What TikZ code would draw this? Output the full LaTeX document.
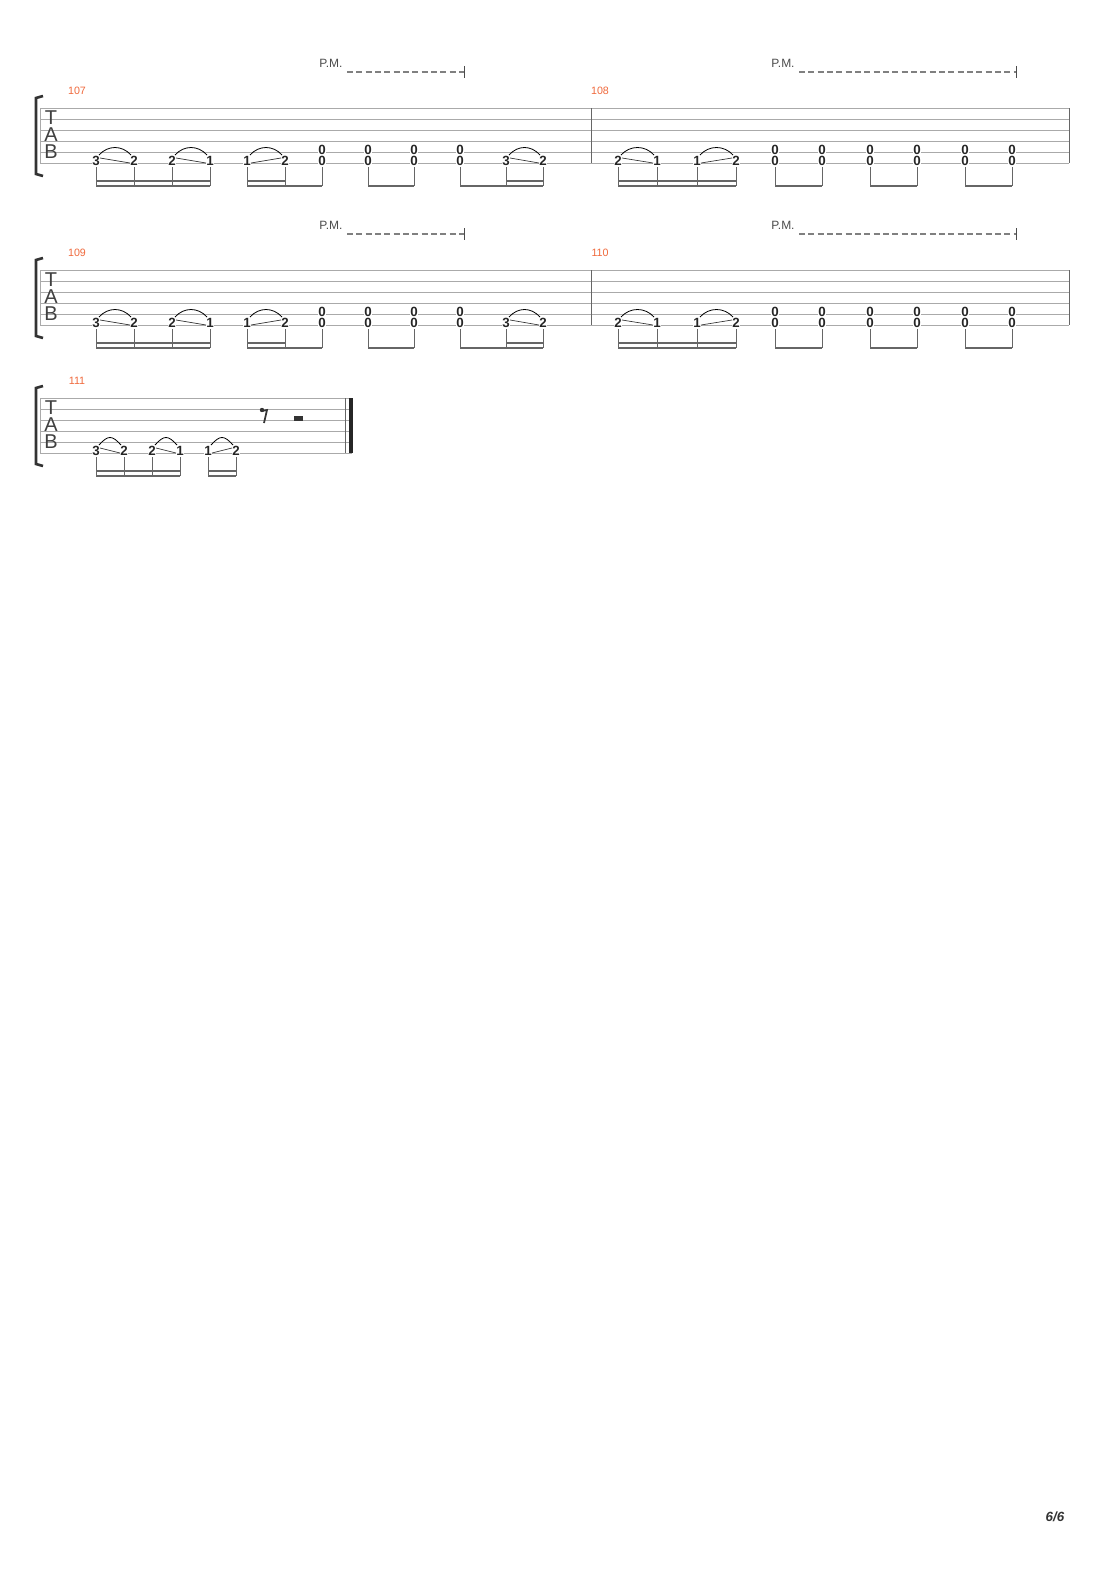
\documentclass[tikz,border=0pt]{standalone}
\usepackage{fontspec}
\setmainfont{Liberation Sans}
\usetikzlibrary{positioning}
\definecolor{barnum}{HTML}{F0693C}
\definecolor{staffgray}{HTML}{AAAAAA}
\definecolor{beamgray}{HTML}{666666}
\tikzset{
  staffline/.style={draw=staffgray, line width=0.6pt},
  fret/.style={font=\bfseries\fontsize{10}{10}\selectfont, inner sep=0.5pt, fill=white, text=black!85},
  tabletter/.style={font=\fontsize{15}{15}\selectfont, inner sep=0pt, text=black!75},
  stemline/.style={draw=beamgray, line width=0.6pt},
  beamline/.style={draw=beamgray, line width=2pt},
  slideline/.style={draw=black!80, line width=0.5pt},
  barnumber/.style={font=\fontsize{8}{8}\selectfont, text=barnum, inner sep=0pt},
  pmtext/.style={font=\fontsize{9}{9}\selectfont, text=black!70, inner sep=0pt},
  pmline/.style={draw=black!50, dash pattern=on 4.5pt off 2.5pt, line width=0.9pt}
}
% staff with bracket and TAB letters: #1 top line, #2 right end
\newcommand\tabstaff[2]{
  \foreach \k in {0,...,5}
    \draw[staffline] (40,#1+11*\k) -- (#2,#1+11*\k);
  \draw[staffline] (40,#1) -- (40,#1+55);
  \draw[line width=2pt, black!80] (43,#1-12) -- (36,#1-10) -- (36,#1+66) -- (43,#1+68);
  \node[tabletter] at (51,#1+10) {T};
  \node[tabletter] at (51,#1+27) {A};
  \node[tabletter] at (51,#1+44) {B};
}
% single fret on 6th string with stem
\newcommand\lowfret[4]{% name, x, y0, fret
  \node[fret] (#1) at (#2,#3+53) {#4};
  \draw[stemline] (#2,#3+59) -- (#2,#3+78);
}
% open power chord (strings 5 and 6) with stem
\newcommand\openchord[3]{% name, x, y0
  \node[fret] (#1u) at (#2,#3+42) {0};
  \node[fret] (#1) at (#2,#3+53) {0};
  \draw[stemline] (#2,#3+59) -- (#2,#3+78);
}
% slur plus slide line: #1 x1, #2 x2, #3 y0, #4 down/up
\newcommand\slurslide[4]{
  \draw[line width=0.6pt] (#1+3,#3+47) .. controls (#1+12,#3+37) and (#2-12,#3+37) .. (#2-3,#3+47);
  \ifx#4d\draw[slideline] (#1+4,#3+50) -- (#2-4,#3+55);
  \else\draw[slideline] (#1+4,#3+55) -- (#2-4,#3+50);\fi
}
\newcommand\beam[3]{\draw[beamline] (#1,#3+78) -- (#2,#3+78);}
\newcommand\subbeam[3]{\draw[beamline] (#1,#3+73) -- (#2,#3+73);}
% palm mute: #1 x text, #2 x end, #3 y
\newcommand\palmmute[3]{
  \node[pmtext] at (#1,#3) {P.M.};
  \draw[pmline] (#1+16,#3+9) -- (#2,#3+9);
  \draw[black!70, line width=0.6pt] (#2,#3+3) -- (#2,#3+15);
}
% first bar of a system
\newcommand\barodd[2]{% y0, number
  \node[barnumber] at (77,#1-17) {#2};
  \palmmute{331}{464}{#1-45}
  \foreach \x/\f in {96/3,134/2,172/2,210/1,247/1,285/2,506/3,543/2}
    \lowfret{f#2x\x}{\x}{#1}{\f};
  \foreach \x in {322,368,414,460}
    \openchord{c#2x\x}{\x}{#1};
  \slurslide{96}{134}{#1}{d}
  \slurslide{172}{210}{#1}{d}
  \slurslide{247}{285}{#1}{u}
  \slurslide{506}{543}{#1}{d}
  \beam{96}{210}{#1} \subbeam{96}{210}{#1}
  \beam{247}{322}{#1} \subbeam{247}{285}{#1}
  \beam{368}{414}{#1}
  \beam{460}{543}{#1} \subbeam{506}{543}{#1}
}
% second bar of a system
\newcommand\bareven[2]{% y0, number
  \draw[staffline, black!60] (591,#1) -- (591,#1+55);
  \draw[staffline, black!60] (1069,#1) -- (1069,#1+55);
  \node[barnumber] at (600,#1-17) {#2};
  \palmmute{783}{1016}{#1-45}
  \foreach \x/\f in {618/2,657/1,697/1,736/2}
    \lowfret{f#2x\x}{\x}{#1}{\f};
  \foreach \x in {775,822,870,917,965,1012}
    \openchord{c#2x\x}{\x}{#1};
  \slurslide{618}{657}{#1}{d}
  \slurslide{697}{736}{#1}{u}
  \beam{618}{736}{#1} \subbeam{618}{736}{#1}
  \beam{775}{822}{#1}
  \beam{870}{917}{#1}
  \beam{965}{1012}{#1}
}

\begin{document}
\begin{tikzpicture}[x=0.75pt, y=-0.75pt]
  \useasboundingbox[fill=white] (0,0) rectangle (1110,1570);

  % systems 1 and 2
  \foreach \y/\a/\b in {108/107/108, 270/109/110} {
    \tabstaff{\y}{1069}
    \barodd{\y}{\a}
    \bareven{\y}{\b}
  }

  % last system
  \tabstaff{398}{352}
  \node[barnumber] at (77,381) {111};
  \foreach \x/\f in {96/3,124/2,152/2,180/1,208/1,236/2}
    \lowfret{f111x\x}{\x}{398}{\f};
  \slurslide{96}{124}{398}{d}
  \slurslide{152}{180}{398}{d}
  \slurslide{208}{236}{398}{u}
  \beam{96}{180}{398} \subbeam{96}{180}{398}
  \beam{208}{236}{398} \subbeam{208}{236}{398}
  % rests
  \fill[black!80] (262,410) circle (2.2);
  \draw[black!80, line width=1.3pt] (262,411) -- (267,410) -- (264,423);
  \fill[black!80] (294,416) rectangle (303,421);
  % final barline
  \draw[black!60, line width=0.6pt] (345,398) -- (345,453);
  \draw[black!85, line width=3pt] (351,398) -- (351,453);

  % page number
  \node[font=\bfseries\itshape\fontsize{10}{10}\selectfont, text=black!80] (page) at (1055,1517) {6/6};
\end{tikzpicture}
\end{document}
